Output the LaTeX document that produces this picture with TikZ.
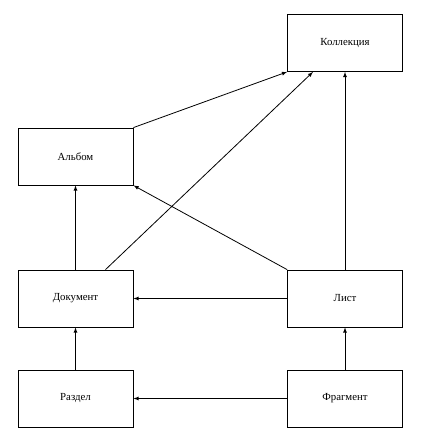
\documentclass[tikz,border=0pt]{standalone}
\usepackage{fontspec}
\setmainfont{Liberation Serif}
\usepackage{tikz}
\usetikzlibrary{arrows}

\begin{document}
\begin{tikzpicture}[x=1pt,y=-1pt,
    entity/.style={draw,thick,minimum width=115pt,minimum height=57pt,inner sep=0pt,font=\fontsize{10.8}{12}\selectfont},
    link/.style={thick,-latex}]
    \useasboundingbox (0,0) rectangle (444,446);
    \node[entity] (koll) at (345,43) {Коллекция};
    \node[entity] (alb) at (75.5,156.5) {Альбом};
    \node[entity] (dok) at (75.5,298.5) {Документ};
    \node[entity] (list) at (345,298.5) {Лист};
    \node[entity] (razd) at (75.5,398.5) {Раздел};
    \node[entity] (frag) at (345,398.5) {Фрагмент};
    %
    \draw[link] (alb.north east) -- (koll.south west);
    \draw[link] ([xshift=30pt]dok.north) -- ([xshift=-32pt]koll.south);
    \draw[link] (list.north) -- (koll.south);
    \draw[link] (list.north west) -- (alb.south east);
    \draw[link] (dok.north) -- (alb.south);
    \draw[link] (list.west) -- (dok.east);
    \draw[link] (razd.north) -- (dok.south);
    \draw[link] (frag.north) -- (list.south);
    \draw[link] (frag.west) -- (razd.east);
\end{tikzpicture}
\end{document}
